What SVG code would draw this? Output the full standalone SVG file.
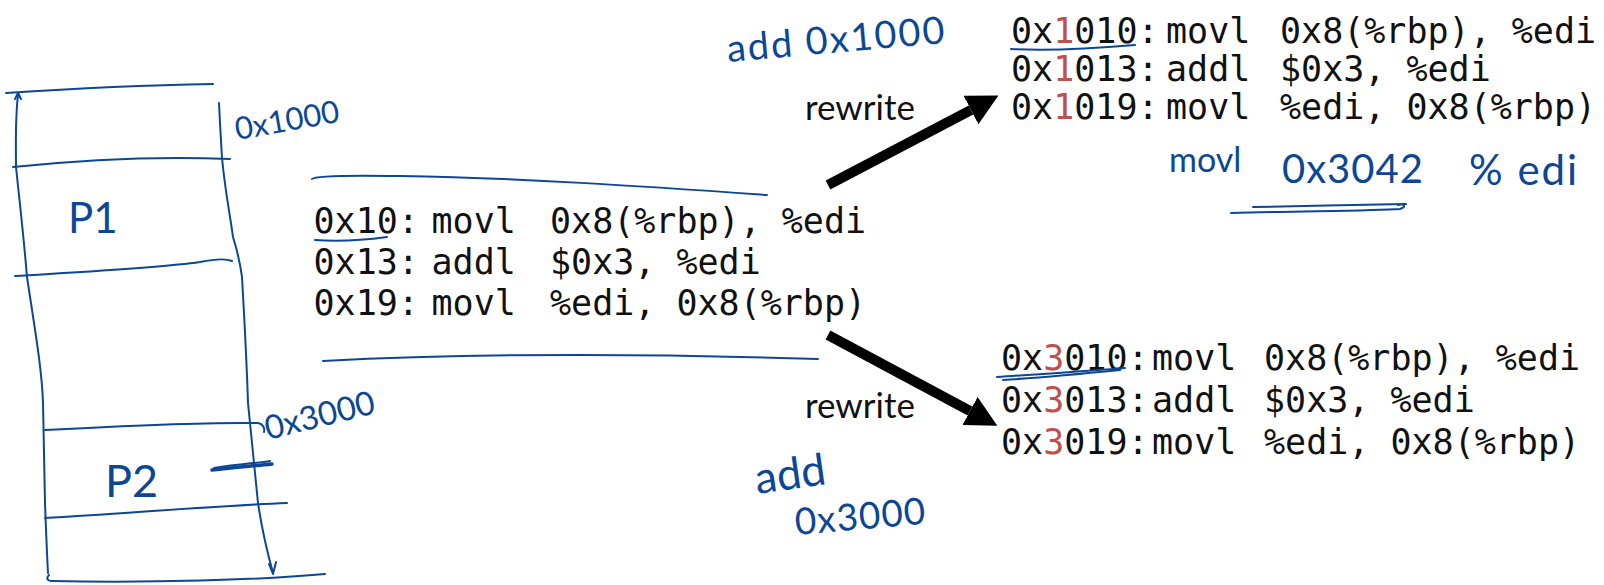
<svg xmlns="http://www.w3.org/2000/svg" width="1604" height="585" viewBox="0 0 1604 585">
  <style>
    .code { font-family: "DejaVu Sans Mono", "Liberation Mono", monospace; font-size: 35px; fill: #111; white-space: pre; }
    .hi { fill: #c0504d; }
    .label { font-family: "Lato", "Open Sans", sans-serif; font-size: 35px; fill: #111; }
    .ink { fill: none; stroke: #0b4795; stroke-width: 2; stroke-linecap: round; stroke-linejoin: round; }
    .inkbold { fill: none; stroke: #0b4795; stroke-width: 3.5; stroke-linecap: round; }
    .hand { font-family: "Lato", "Open Sans", sans-serif; font-weight: 400; fill: #0b4795; }
    .arrow { fill: none; stroke: #000; stroke-width: 10; }
  </style>
  <defs>
    <marker id="head" markerUnits="userSpaceOnUse" markerWidth="32" markerHeight="34" refX="0" refY="16" orient="auto">
      <path d="M0,0 L31,16 L0,32 z" fill="#000"/>
    </marker>
  </defs>
  <rect width="1604" height="585" fill="#fff"/>

  <!-- memory layout sketch -->
  <g id="memory">
    <path class="ink" d="M6,93 C80,88 150,85 213,84"/>
    <path class="ink" d="M18,95 C15,120 16,150 16,167 C20,205 24,240 27,277 C35,330 42,370 43,403 C44,450 45,490 45,503 C46,530 47,555 48,573"/>
    <path class="ink" d="M15,99 L18,93 L21,99"/>
    <path class="ink" d="M219,103 C220,125 221,140 222,158 C225,190 230,215 233,237 C237,250 240,262 242,277 C245,330 247,370 248,403 C252,440 255,475 258,503 C262,530 268,555 273,573"/>
    <path class="ink" d="M269,564 L273,574 L276,562"/>
    <path class="ink" d="M13,167 C80,160 160,156 230,159"/>
    <path class="ink" d="M15,276 C80,272 160,268 200,262 C215,259 225,258 232,261"/>
    <path class="ink" d="M45,430 C120,426 200,422 258,423 C263,424 265,428 264,432"/>
    <path class="ink" d="M45,518 C120,514 210,506 287,503"/>
    <path class="ink" d="M49,575 C46,578 47,581 52,581 C150,583 260,580 325,574"/>
    <path class="inkbold" d="M212,470 C235,467 255,466 272,464"/>
    <path class="ink" d="M214,468 C240,464 258,463 270,461"/>
    <text class="hand" x="68" y="233" font-size="42">P1</text>
    <text class="hand" x="105" y="497" font-size="45">P2</text>
    <text class="hand" x="237" y="140" font-size="31" transform="rotate(-10 237 140)">0x1000</text>
    <text class="hand" x="268" y="440" font-size="33" transform="rotate(-14 268 440)">0x3000</text>
  </g>

  <!-- original program -->
  <g id="original">
    <path class="ink" d="M312,179 C314,176 340,175 400,176 C520,178 640,186 767,195"/>
    <text class="code" xml:space="preserve"><tspan x="313.5" y="233">0x10:</tspan><tspan x="431.5">movl</tspan><tspan x="550">0x8(%rbp), %edi</tspan><tspan x="313.5" y="274">0x13:</tspan><tspan x="431.5">addl</tspan><tspan x="550">$0x3, %edi</tspan><tspan x="313.5" y="315">0x19:</tspan><tspan x="431.5">movl</tspan><tspan x="550">%edi, 0x8(%rbp)</tspan></text>
    <path class="ink" stroke-width="3" d="M315,240 C340,242 365,240 387,237"/>
    <path class="ink" d="M323,361 C440,355 600,352 818,359"/>
  </g>

  <!-- relocated copy at 0x1000 -->
  <g id="reloc1000">
    <text class="code" xml:space="preserve"><tspan x="1011" y="43">0x<tspan class="hi">1</tspan>010:</tspan><tspan x="1166">movl</tspan><tspan x="1280">0x8(%rbp), %edi</tspan><tspan x="1011" y="81">0x<tspan class="hi">1</tspan>013:</tspan><tspan x="1166">addl</tspan><tspan x="1280">$0x3, %edi</tspan><tspan x="1011" y="119">0x<tspan class="hi">1</tspan>019:</tspan><tspan x="1166">movl</tspan><tspan x="1280">%edi, 0x8(%rbp)</tspan></text>
    <path class="ink" stroke-width="3" d="M1011,49 C1050,51 1100,48 1135,45"/>
    <text class="hand" x="1169" y="172" font-size="34">movl</text>
    <text class="hand" x="1282" y="183" font-size="40" letter-spacing="1">0x3042</text>
    <text class="hand" x="1469" y="185" font-size="42" letter-spacing="2">% edi</text>
    <path class="ink" stroke-width="3" d="M1253,207 C1300,206 1360,205 1406,204"/>
    <path class="ink" stroke-width="2.5" d="M1231,213 C1300,211 1370,211 1400,209 C1407,207 1404,203 1398,205"/>
  </g>

  <!-- relocated copy at 0x3000 -->
  <g id="reloc3000">
    <text class="code" xml:space="preserve"><tspan x="1001" y="370">0x<tspan class="hi">3</tspan>010:</tspan><tspan x="1152">movl</tspan><tspan x="1264">0x8(%rbp), %edi</tspan><tspan x="1001" y="412">0x<tspan class="hi">3</tspan>013:</tspan><tspan x="1152">addl</tspan><tspan x="1264">$0x3, %edi</tspan><tspan x="1001" y="454">0x<tspan class="hi">3</tspan>019:</tspan><tspan x="1152">movl</tspan><tspan x="1264">%edi, 0x8(%rbp)</tspan></text>
    <path class="ink" stroke-width="3" d="M997,377 C1040,374 1090,371 1125,368"/>
    <path class="ink" stroke-width="2.5" d="M1003,380 C1050,377 1090,373 1120,370"/>
  </g>

  <!-- rewrite connectors -->
  <g id="connectors">
    <path class="arrow" d="M828,185 L971,110" marker-end="url(#head)"/>
    <path class="arrow" d="M828,335 L970,411" marker-end="url(#head)"/>
    <text class="label" x="805" y="120">rewrite</text>
    <text class="label" x="805" y="418">rewrite</text>
    <text class="hand" x="728" y="62" font-size="38" letter-spacing="2" transform="rotate(-5 728 62)">add 0x1000</text>
    <text class="hand" x="757" y="494" font-size="44" transform="rotate(-8 757 494)">add</text>
    <text class="hand" x="796" y="535" font-size="37" letter-spacing="1" transform="rotate(-5 796 535)">0x3000</text>
  </g>
</svg>
